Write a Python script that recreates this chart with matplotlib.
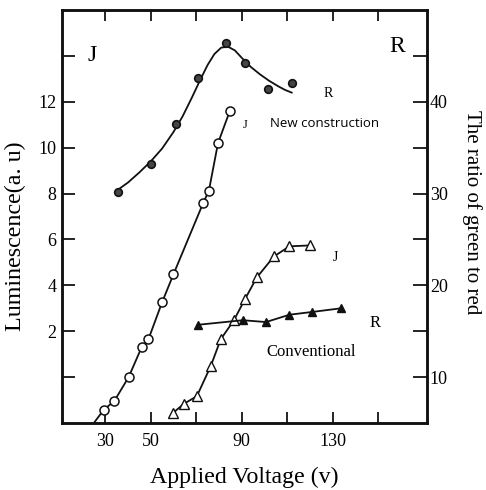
import matplotlib
matplotlib.use("Agg")
import matplotlib.pyplot as plt

# ---- data ----
# New construction, ratio R (right axis)
new_R_v = [35.5, 50, 61, 71, 83, 91.4, 101.5, 112]
new_R_y = [30.2, 33.2, 37.6, 42.6, 46.4, 44.2, 41.4, 42.1]
# fitted curve as drawn in the picture
new_R_curve_v = [35.5, 40, 45, 50, 55, 60, 64, 68, 72, 75, 78, 81, 84, 87, 90, 94, 98, 102, 106, 109, 112]
new_R_curve_y = [30.4, 31.2, 32.3, 33.5, 34.9, 36.7, 38.4, 40.4, 42.5, 44.0, 45.2, 45.9, 46.0, 45.6, 44.8, 43.8, 43.0, 42.3, 41.7, 41.3, 41.0]

# New construction, luminescence J (left axis)
new_J_v = [29.3, 34, 40.3, 46, 49, 55, 60, 73, 75.6, 79.6, 84.8]
new_J_y = [-1.43, -1.04, 0.0, 1.3, 1.65, 3.26, 4.48, 7.57, 8.13, 10.2, 11.6]
new_J_start = (25.3, -1.96)

# Conventional, luminescence J (left axis)
con_J_v = [59.7, 64.5, 70.3, 76.4, 80.8, 86.6, 91.4, 96.7, 104.2, 111, 120]
con_J_y = [-1.57, -1.17, -0.83, 0.48, 1.65, 2.48, 3.39, 4.35, 5.26, 5.7, 5.74]

# Conventional, ratio R (right axis)
con_R_v = [70.7, 90.5, 100.7, 111, 121, 133.7]
con_R_y = [15.7, 16.2, 16.0, 16.8, 17.1, 17.5]

x_ticks = [30, 50, 70, 90, 110, 130, 150]
x_labels = ["30", "50", "", "90", "", "130", ""]
yl_ticks = [0, 2, 4, 6, 8, 10, 12, 14]
yl_labels = ["", "2", "4", "6", "8", "10", "12", ""]
yr_ticks = [10, 15, 20, 25, 30, 35, 40, 45]
yr_labels = ["10", "", "20", "", "30", "", "40", ""]

serif = ["Liberation Serif", "DejaVu Serif"]
plt.rcParams["font.family"] = serif

fig = plt.figure(figsize=(4.86, 4.90), dpi=100)
ax = fig.add_axes([0.1276, 0.1367, 0.751, 0.8429])
ax2 = ax.twinx()

ax.set_xlim(11, 171.5)
ax.set_ylim(-2, 16)
ax2.set_ylim(5, 50)

k = "#111111"
# new construction R
ax2.plot(new_R_curve_v, new_R_curve_y, color=k, lw=1.3)
ax2.plot(new_R_v, new_R_y, ls="none", marker="o", ms=5.5, mfc="#444444", mec=k, mew=1.2)
# new construction J
ax.plot([new_J_start[0]] + new_J_v, [new_J_start[1]] + new_J_y, color=k, lw=1.3,
        marker="o", ms=6.5, mfc="white", mec=k, mew=1.1, markevery=list(range(1, len(new_J_v) + 1)))
# conventional J
ax.plot(con_J_v, con_J_y, color=k, lw=1.3, marker="^", ms=6.5, mfc="white", mec=k, mew=1.0)
# conventional R
ax2.plot(con_R_v, con_R_y, color=k, lw=1.3, marker="^", ms=6, mfc=k, mec=k)

for a in (ax, ax2):
    for s in a.spines.values():
        s.set_linewidth(1.8)
        s.set_color(k)

ax.set_xticks(x_ticks)
ax.set_xticklabels(x_labels)
ax.set_yticks(yl_ticks)
ax.set_yticklabels(yl_labels)
ax2.set_yticks(yr_ticks)
ax2.set_yticklabels(yr_labels)
ax.tick_params(axis="x", direction="in", length=8, width=1.2, top=True, labelsize=13, pad=7)
ax.tick_params(axis="y", direction="in", length=9, width=1.2, labelsize=13, pad=4)
ax2.tick_params(axis="y", direction="in", length=10, width=1.2, labelsize=13, pad=2)

ax.set_xlabel("Applied Voltage (v)", fontsize=17.2, labelpad=12)
ax.set_ylabel("Luminescence(a. u)", fontsize=17.3)
ax.yaxis.set_label_coords(-0.099, 0.453)
ax2.set_ylabel("The ratio of green to red", fontsize=15, rotation=-90, labelpad=26)
ax2.yaxis.set_label_coords(1.15, 0.51)

ax.text(0.082, 0.889, "J", transform=ax.transAxes, fontsize=17, ha="center", va="center")
ax.text(0.918, 0.911, "R", transform=ax.transAxes, fontsize=17, ha="center", va="center")
ax.text(0.729, 0.799, "R", transform=ax.transAxes, fontsize=10, ha="center", va="center")
ax.text(0.501, 0.722, "J", transform=ax.transAxes, fontsize=9, ha="center", va="center")
ax.text(0.718, 0.726, "New construction", transform=ax.transAxes, fontsize=9.5,
        ha="center", va="center", family=["Open Sans", "DejaVu Sans"])
ax.text(0.748, 0.400, "J", transform=ax.transAxes, fontsize=10, ha="center", va="center")
ax.text(0.858, 0.242, "R", transform=ax.transAxes, fontsize=12, ha="center", va="center")
ax.text(0.682, 0.172, "Conventional", transform=ax.transAxes, fontsize=12,
        ha="center", va="center")

fig.savefig("out.png", dpi=100)
